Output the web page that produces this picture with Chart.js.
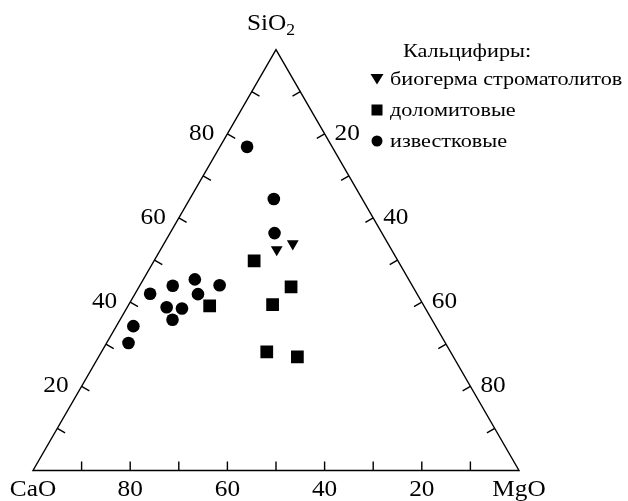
<!DOCTYPE html>
<html>
<head>
<meta charset="utf-8">
<script src="https://cdn.jsdelivr.net/npm/chart.js@4.4.0/dist/chart.umd.min.js"></script>
<style>
  body { margin: 0; background: #fff; }
  canvas { display: block; }
</style>
</head>
<body>
<canvas id="ternary" width="628" height="501"></canvas>
<script>
// составы, % (SiO2, MgO, CaO)
const stromSiO2 = [52.5, 53.9];
const stromMgO = [23.9, 26.5];
const stromCaO = [23.6, 19.6];

const dolSiO2 = [49.8, 43.6, 39.4, 39.1, 28.2, 27.0];
const dolMgO = [20.6, 31.3, 29.6, 16.8, 34.0, 40.9];
const dolCaO = [29.6, 25.1, 31.0, 44.1, 37.8, 32.1];

const calcSiO2 = [76.9, 64.5, 56.4, 44.0, 45.4, 41.9, 43.9, 42.0, 38.8, 38.5, 35.8, 34.3, 30.3];
const calcMgO = [5.6, 17.3, 21.5, 16.4, 10.6, 13.0, 6.8, 3.1, 8.1, 11.4, 10.8, 3.5, 4.5];
const calcCaO = [17.5, 18.2, 22.1, 39.6, 44.0, 45.1, 49.3, 54.9, 53.1, 50.1, 53.4, 62.2, 65.2];

const tickValues = [20, 40, 60, 80];
const legendTitle = 'Кальцифиры:';
const legendLabels = ['биогерма строматолитов', 'доломитовые', 'известковые'];

const FONT = '"Liberation Serif", "Times New Roman", serif';

// тройные координаты -> декартовы (0..100)
function toXY(si, mg, ca) {
    const s = si + mg + ca;
    return { x: (mg + si / 2) / s * 100, y: si / s * 100 };
}

function points(si, mg, ca) {
    return si.map((v, i) => toXY(v, mg[i], ca[i]));
}

// текст чуть растянут по горизонтали, как в оригинале
function text(ctx, t, x, y, sx) {
    ctx.save();
    ctx.translate(x, y);
    ctx.scale(sx, 1);
    ctx.fillText(t, 0, 0);
    ctx.restore();
}

const ternaryFrame = {
    id: 'ternaryFrame',
    afterDraw(chart) {
        const ctx = chart.ctx;
        const xs = chart.scales.x, ys = chart.scales.y;
        const P = (si, mg, ca) => {
            const p = toXY(si, mg, ca);
            return [xs.getPixelForValue(p.x), ys.getPixelForValue(p.y)];
        };
        ctx.save();
        ctx.strokeStyle = '#000';
        ctx.lineWidth = 1.4;

        const top = P(100, 0, 0), mgo = P(0, 100, 0), cao = P(0, 0, 100);
        ctx.beginPath();
        ctx.moveTo(top[0], top[1]);
        ctx.lineTo(mgo[0], mgo[1]);
        ctx.lineTo(cao[0], cao[1]);
        ctx.closePath();
        ctx.stroke();

        // засечки
        const len = 9;
        ctx.beginPath();
        for (let i = 1; i < 10; i++) {
            const v = i * 10;
            let p = P(0, v, 100 - v);          // низ
            ctx.moveTo(p[0], p[1]); ctx.lineTo(p[0], p[1] - len);
            p = P(v, 0, 100 - v);              // левая сторона
            ctx.moveTo(p[0], p[1]); ctx.lineTo(p[0] + len * 0.866, p[1] + len * 0.5);
            p = P(100 - v, v, 0);              // правая сторона
            ctx.moveTo(p[0], p[1]); ctx.lineTo(p[0] - len * 0.866, p[1] + len * 0.5);
        }
        ctx.stroke();

        ctx.fillStyle = '#000';
        ctx.font = '23px ' + FONT;
        const sx = 1.1;
        tickValues.forEach(v => {
            let p = P(0, 100 - v, v);
            ctx.textAlign = 'center'; ctx.textBaseline = 'alphabetic';
            text(ctx, String(v), p[0], 496, sx);
            p = P(v, 0, 100 - v);
            ctx.textAlign = 'right'; ctx.textBaseline = 'middle';
            text(ctx, String(v), p[0] - 13, p[1], sx);
            p = P(100 - v, v, 0);
            ctx.textAlign = 'left';
            text(ctx, String(v), p[0] + 10, p[1], sx);
        });

        // вершины
        ctx.textBaseline = 'alphabetic';
        ctx.textAlign = 'center';
        text(ctx, 'CaO', cao[0], 496, sx);
        text(ctx, 'MgO', mgo[0], 496, sx);
        ctx.textAlign = 'left';
        const w = ctx.measureText('SiO').width * sx;
        const x0 = top[0] - 29;
        text(ctx, 'SiO', x0, 30, sx);
        ctx.font = '16px ' + FONT;
        text(ctx, '2', x0 + w, 35, sx);

        // легенда
        ctx.font = '19px ' + FONT;
        const lsx = 1.17;
        text(ctx, legendTitle, 403, 57, lsx);
        const lx = 377, ly = [79, 110, 141];
        legendLabels.forEach((t, i) => text(ctx, t, 390, ly[i] + 6, lsx));
        ctx.beginPath();
        ctx.moveTo(lx - 6.5, ly[0] - 5); ctx.lineTo(lx + 6.5, ly[0] - 5); ctx.lineTo(lx, ly[0] + 5.5);
        ctx.closePath(); ctx.fill();
        ctx.fillRect(lx - 5.5, ly[1] - 5.5, 11, 11);
        ctx.beginPath(); ctx.arc(lx, ly[2], 5.5, 0, Math.PI * 2); ctx.fill();
        ctx.restore();
    }
};

new Chart(document.getElementById('ternary'), {
    type: 'scatter',
    data: {
        datasets: [
            {
                label: legendLabels[0],
                data: points(stromSiO2, stromMgO, stromCaO),
                pointStyle: 'triangle', rotation: 180, radius: 6.8,
                backgroundColor: '#000', borderWidth: 0
            },
            {
                label: legendLabels[1],
                data: points(dolSiO2, dolMgO, dolCaO),
                pointStyle: 'rect', radius: 9,
                backgroundColor: '#000', borderWidth: 0
            },
            {
                label: legendLabels[2],
                data: points(calcSiO2, calcMgO, calcCaO),
                pointStyle: 'circle', radius: 6.3,
                backgroundColor: '#000', borderWidth: 0
            }
        ]
    },
    options: {
        responsive: false,
        animation: false,
        layout: { padding: { left: 33, right: 109, top: 49.6, bottom: 30.5 } },
        scales: {
            x: { type: 'linear', min: 0, max: 100, display: false },
            y: { type: 'linear', min: 0, max: 100, display: false }
        },
        plugins: { legend: { display: false }, tooltip: { enabled: false } }
    },
    plugins: [ternaryFrame]
});
</script>
</body>
</html>
